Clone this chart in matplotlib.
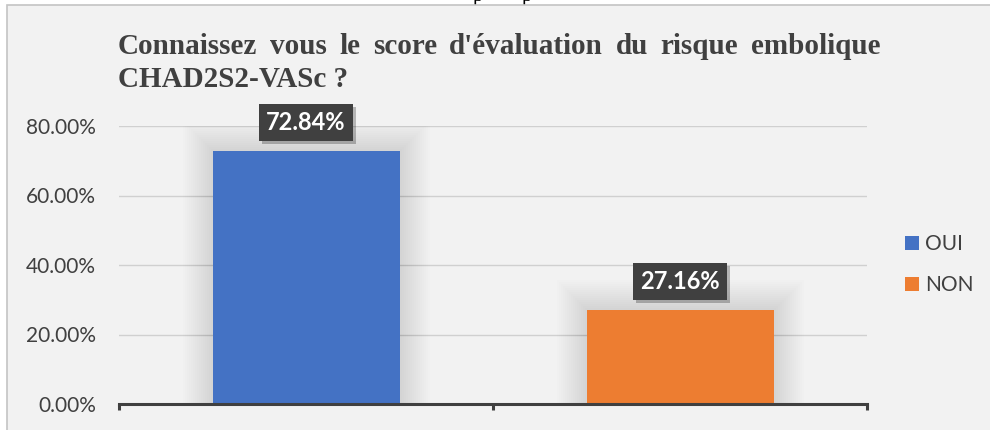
import matplotlib
matplotlib.use("Agg")
import matplotlib.pyplot as plt
from matplotlib.patches import Rectangle, Patch
import matplotlib.patheffects as pe

# ---------------- data ----------------
categories = ["OUI", "NON"]
values = [72.84, 27.16]          # percent
bar_colors = ["#4472C4", "#ED7D31"]
yticks = [0, 20, 40, 60, 80]
ytick_labels = ["0.00%", "20.00%", "40.00%", "60.00%", "80.00%"]
value_labels = ["72.84%", "27.16%"]
title_line1 = "Connaissez vous le score d'évaluation du risque embolique"
title_line2 = "CHAD2S2-VASc ?"

# ---------------- figure ----------------
W, H = 990, 430
fig = plt.figure(figsize=(W / 100, H / 100), dpi=100)
fig.patch.set_facecolor("white")


def fx(px):
    return px / W


def fy(py):
    return 1 - py / H


# cut-off descenders of the document text above the chart
for xp in (478, 527):
    fig.text(fx(xp), fy(0.5), "p", fontfamily="Liberation Serif", fontsize=15,
             ha="center", va="baseline", color="black", zorder=-3)

# chart area background with light border
fig.patches.append(Rectangle((fx(7), -0.1), 1.2, fy(5) + 0.1, transform=fig.transFigure,
                             facecolor="#F2F2F2", edgecolor="#C4C4C4", lw=1.2,
                             zorder=-2))

ax = fig.add_axes([fx(119), fy(404), fx(867) - fx(119), fy(126) - fy(404)])
ax.set_facecolor("none")
ax.set_xlim(-0.5, 1.5)
ax.set_ylim(0, 80)

x = list(range(len(categories)))
bar_w = 0.5

# soft shadows around bars
px_per_x = (867 - 119) / 2.0
px_per_y = (404 - 126) / 80.0
for k in range(15):
    d = (k + 1) * 2.0
    ax.bar(x, [v + d / px_per_y for v in values], width=bar_w + 2 * d / px_per_x,
           color="black", alpha=0.007, lw=0, zorder=2)

ax.bar(x, values, width=bar_w, color=bar_colors, lw=0, zorder=3)

# grid and axes
ax.yaxis.grid(True, color="#D0D0D0", lw=1.0)
ax.set_axisbelow(True)
for s in ("left", "right", "top"):
    ax.spines[s].set_visible(False)
ax.spines["bottom"].set_color("#404040")
ax.spines["bottom"].set_linewidth(2.2)
ax.spines["bottom"].set_zorder(5)

ax.set_xticks([-0.5, 0.5, 1.5])
ax.set_xticklabels(["", "", ""])
ax.tick_params(axis="x", length=4.5, width=2.2, color="#404040", direction="out")

ax.set_yticks(yticks)
ax.set_yticklabels(ytick_labels, fontfamily="Lato", fontsize=15, color="#404040")
ax.tick_params(axis="y", length=0, pad=16.5)

# data labels
for xi, v, lab in zip(x, values, value_labels):
    t = ax.annotate(lab, xy=(xi, v), xytext=(0, 20.2), textcoords="offset points",
                    ha="center", va="center", fontfamily="Lato", fontweight="bold",
                    fontsize=17, color="white", zorder=6,
                    bbox=dict(boxstyle="square,pad=0.3", fc="#404040", ec="none"))
    t.get_bbox_patch().set_path_effects(
        [pe.withSimplePatchShadow(offset=(2, -2), shadow_rgbFace="black", alpha=0.25)])

# legend
handles = [Patch(facecolor=c, edgecolor="none", label=l) for c, l in zip(bar_colors, categories)]
ax.legend(handles=handles, loc="center left",
          bbox_to_anchor=(fx(905), (fy(242) + fy(287)) / 2), bbox_transform=fig.transFigure,
          frameon=False, prop={"family": "Lato", "size": 15}, labelcolor="#404040",
          handlelength=0.67, handleheight=0.67, handletextpad=0.3, labelspacing=1.0,
          borderpad=0, borderaxespad=0)

# justified title (line 1), left-aligned line 2
title_kw = dict(fontfamily="Liberation Serif", fontweight="bold", fontsize=21,
                color="#404040", va="baseline", ha="left")
renderer = fig.canvas.get_renderer()
words = title_line1.split()
texts = [fig.text(0, fy(54), w, **title_kw) for w in words]
widths = [t.get_window_extent(renderer).width for t in texts]
left, right = 118, 880
gap = (right - left - sum(widths)) / (len(words) - 1)
pos = left
for t, w in zip(texts, widths):
    t.set_x(fx(pos))
    pos += w + gap
fig.text(fx(118), fy(87), title_line2, **title_kw)

fig.savefig("out.png", dpi=100, facecolor=fig.get_facecolor())
